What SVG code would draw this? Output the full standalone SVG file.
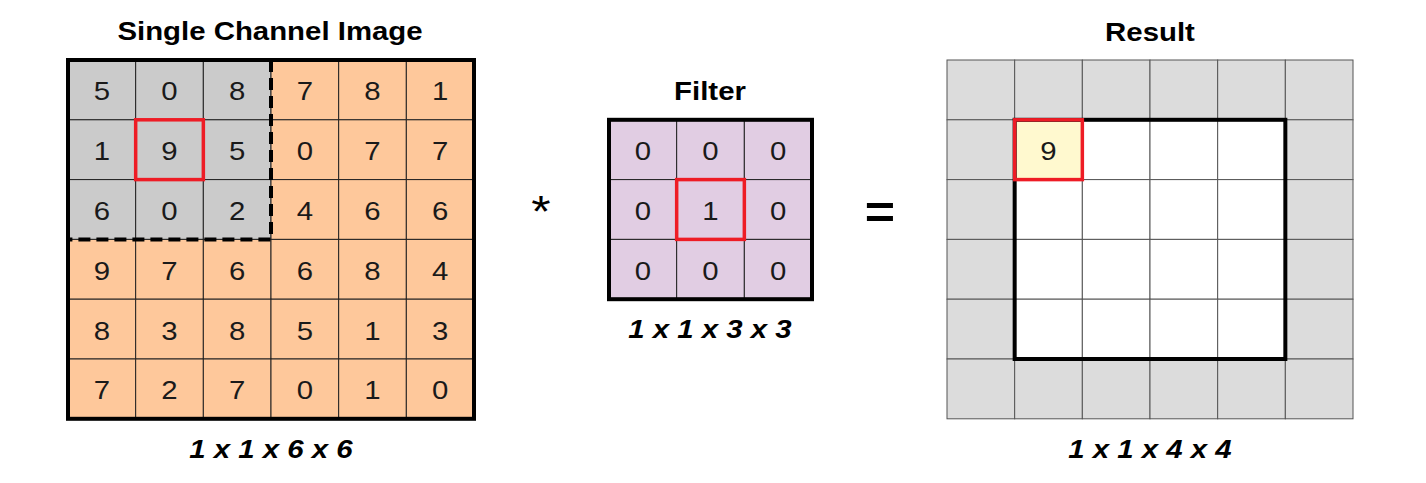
<svg xmlns="http://www.w3.org/2000/svg" width="1426" height="483" viewBox="0 0 1426 483">
<style>
.num{font-family:"Liberation Sans",Arial,sans-serif;font-size:26px;text-anchor:middle;fill:#1a1a1a}
.title{font-family:"Liberation Sans",Arial,sans-serif;font-size:26px;font-weight:bold;text-anchor:middle;fill:#000}
.dim{font-family:"Liberation Sans",Arial,sans-serif;font-size:26px;font-weight:bold;font-style:italic;text-anchor:middle;fill:#000}
.op{font-family:"Liberation Sans",Arial,sans-serif;text-anchor:middle;fill:#000}
.org{fill:#fec89b;stroke:#222;stroke-width:1}
.gry{fill:#cbcbcb;stroke:#222;stroke-width:1}
.lav{fill:#e1cde3;stroke:#222;stroke-width:1}
.rg{fill:#dcdcdc;stroke:#555;stroke-width:1}
.wh{fill:#fff;stroke:#555;stroke-width:1}
.thick{fill:none;stroke:#000;stroke-width:4}
.red{fill:none;stroke:#ee1c25;stroke-width:3.5}
</style>
<g id="image">
<text class="title" transform="translate(270,40) scale(1.13,1)">Single Channel Image</text>
<g>
<rect class="gry" x="68" y="60" width="67.67" height="59.8"/><rect class="gry" x="135.67" y="60" width="67.67" height="59.8"/><rect class="gry" x="203.33" y="60" width="67.67" height="59.8"/>
<rect class="org" x="271" y="60" width="67.67" height="59.8"/><rect class="org" x="338.67" y="60" width="67.67" height="59.8"/><rect class="org" x="406.33" y="60" width="67.67" height="59.8"/>
<rect class="gry" x="68" y="119.8" width="67.67" height="59.8"/><rect class="gry" x="135.67" y="119.8" width="67.67" height="59.8"/><rect class="gry" x="203.33" y="119.8" width="67.67" height="59.8"/>
<rect class="org" x="271" y="119.8" width="67.67" height="59.8"/><rect class="org" x="338.67" y="119.8" width="67.67" height="59.8"/><rect class="org" x="406.33" y="119.8" width="67.67" height="59.8"/>
<rect class="gry" x="68" y="179.6" width="67.67" height="59.8"/><rect class="gry" x="135.67" y="179.6" width="67.67" height="59.8"/><rect class="gry" x="203.33" y="179.6" width="67.67" height="59.8"/>
<rect class="org" x="271" y="179.6" width="67.67" height="59.8"/><rect class="org" x="338.67" y="179.6" width="67.67" height="59.8"/><rect class="org" x="406.33" y="179.6" width="67.67" height="59.8"/>
<rect class="org" x="68" y="239.4" width="67.67" height="59.8"/><rect class="org" x="135.67" y="239.4" width="67.67" height="59.8"/><rect class="org" x="203.33" y="239.4" width="67.67" height="59.8"/>
<rect class="org" x="271" y="239.4" width="67.67" height="59.8"/><rect class="org" x="338.67" y="239.4" width="67.67" height="59.8"/><rect class="org" x="406.33" y="239.4" width="67.67" height="59.8"/>
<rect class="org" x="68" y="299.2" width="67.67" height="59.8"/><rect class="org" x="135.67" y="299.2" width="67.67" height="59.8"/><rect class="org" x="203.33" y="299.2" width="67.67" height="59.8"/>
<rect class="org" x="271" y="299.2" width="67.67" height="59.8"/><rect class="org" x="338.67" y="299.2" width="67.67" height="59.8"/><rect class="org" x="406.33" y="299.2" width="67.67" height="59.8"/>
<rect class="org" x="68" y="359" width="67.67" height="59.8"/><rect class="org" x="135.67" y="359" width="67.67" height="59.8"/><rect class="org" x="203.33" y="359" width="67.67" height="59.8"/>
<rect class="org" x="271" y="359" width="67.67" height="59.8"/><rect class="org" x="338.67" y="359" width="67.67" height="59.8"/><rect class="org" x="406.33" y="359" width="67.67" height="59.8"/>
</g>
<rect class="thick" x="68" y="60" width="406" height="358.8"/>
<path d="M271 60 V239.4 H68" fill="none" stroke="#000" stroke-width="4" stroke-dasharray="12 6"/>
<rect class="red" x="135.67" y="119.8" width="67.67" height="59.8"/>
<g>
<text class="num" transform="translate(101.8,100.3) scale(1.13,1)">5</text><text class="num" transform="translate(169.5,100.3) scale(1.13,1)">0</text><text class="num" transform="translate(237.2,100.3) scale(1.13,1)">8</text><text class="num" transform="translate(304.8,100.3) scale(1.13,1)">7</text><text class="num" transform="translate(372.5,100.3) scale(1.13,1)">8</text><text class="num" transform="translate(440.2,100.3) scale(1.13,1)">1</text>
<text class="num" transform="translate(101.8,160.1) scale(1.13,1)">1</text><text class="num" transform="translate(169.5,160.1) scale(1.13,1)">9</text><text class="num" transform="translate(237.2,160.1) scale(1.13,1)">5</text><text class="num" transform="translate(304.8,160.1) scale(1.13,1)">0</text><text class="num" transform="translate(372.5,160.1) scale(1.13,1)">7</text><text class="num" transform="translate(440.2,160.1) scale(1.13,1)">7</text>
<text class="num" transform="translate(101.8,219.9) scale(1.13,1)">6</text><text class="num" transform="translate(169.5,219.9) scale(1.13,1)">0</text><text class="num" transform="translate(237.2,219.9) scale(1.13,1)">2</text><text class="num" transform="translate(304.8,219.9) scale(1.13,1)">4</text><text class="num" transform="translate(372.5,219.9) scale(1.13,1)">6</text><text class="num" transform="translate(440.2,219.9) scale(1.13,1)">6</text>
<text class="num" transform="translate(101.8,279.7) scale(1.13,1)">9</text><text class="num" transform="translate(169.5,279.7) scale(1.13,1)">7</text><text class="num" transform="translate(237.2,279.7) scale(1.13,1)">6</text><text class="num" transform="translate(304.8,279.7) scale(1.13,1)">6</text><text class="num" transform="translate(372.5,279.7) scale(1.13,1)">8</text><text class="num" transform="translate(440.2,279.7) scale(1.13,1)">4</text>
<text class="num" transform="translate(101.8,339.5) scale(1.13,1)">8</text><text class="num" transform="translate(169.5,339.5) scale(1.13,1)">3</text><text class="num" transform="translate(237.2,339.5) scale(1.13,1)">8</text><text class="num" transform="translate(304.8,339.5) scale(1.13,1)">5</text><text class="num" transform="translate(372.5,339.5) scale(1.13,1)">1</text><text class="num" transform="translate(440.2,339.5) scale(1.13,1)">3</text>
<text class="num" transform="translate(101.8,399.3) scale(1.13,1)">7</text><text class="num" transform="translate(169.5,399.3) scale(1.13,1)">2</text><text class="num" transform="translate(237.2,399.3) scale(1.13,1)">7</text><text class="num" transform="translate(304.8,399.3) scale(1.13,1)">0</text><text class="num" transform="translate(372.5,399.3) scale(1.13,1)">1</text><text class="num" transform="translate(440.2,399.3) scale(1.13,1)">0</text>
</g>
<text class="dim" transform="translate(271,458) scale(1.13,1)">1 x 1 x 6 x 6</text>
</g>
<g id="conv-op">
<text class="op" font-size="44" transform="translate(541,227) scale(1.13,1)">*</text>
</g>
<g id="filter">
<text class="title" transform="translate(710,100) scale(1.13,1)">Filter</text>
<rect class="lav" x="609" y="119.8" width="67.67" height="59.8"/><rect class="lav" x="676.67" y="119.8" width="67.67" height="59.8"/><rect class="lav" x="744.33" y="119.8" width="67.67" height="59.8"/>
<rect class="lav" x="609" y="179.6" width="67.67" height="59.8"/><rect class="lav" x="676.67" y="179.6" width="67.67" height="59.8"/><rect class="lav" x="744.33" y="179.6" width="67.67" height="59.8"/>
<rect class="lav" x="609" y="239.4" width="67.67" height="59.8"/><rect class="lav" x="676.67" y="239.4" width="67.67" height="59.8"/><rect class="lav" x="744.33" y="239.4" width="67.67" height="59.8"/>
<rect class="thick" x="609" y="119.8" width="203" height="179.4"/>
<rect class="red" x="676.67" y="179.6" width="67.67" height="59.8"/>
<text class="num" transform="translate(642.8,160.1) scale(1.13,1)">0</text><text class="num" transform="translate(710.5,160.1) scale(1.13,1)">0</text><text class="num" transform="translate(778.2,160.1) scale(1.13,1)">0</text>
<text class="num" transform="translate(642.8,219.9) scale(1.13,1)">0</text><text class="num" transform="translate(710.5,219.9) scale(1.13,1)">1</text><text class="num" transform="translate(778.2,219.9) scale(1.13,1)">0</text>
<text class="num" transform="translate(642.8,279.7) scale(1.13,1)">0</text><text class="num" transform="translate(710.5,279.7) scale(1.13,1)">0</text><text class="num" transform="translate(778.2,279.7) scale(1.13,1)">0</text>
<text class="dim" transform="translate(710,338) scale(1.13,1)">1 x 1 x 3 x 3</text>
</g>
<g id="equals-op">
<text class="op" font-size="46" font-weight="bold" transform="translate(880,228) scale(1.13,1)">=</text>
</g>
<g id="result">
<text class="title" transform="translate(1150,41) scale(1.13,1)">Result</text>
<rect class="rg" x="947" y="60" width="67.67" height="59.8"/><rect class="rg" x="1014.67" y="60" width="67.67" height="59.8"/><rect class="rg" x="1082.33" y="60" width="67.67" height="59.8"/><rect class="rg" x="1150" y="60" width="67.67" height="59.8"/><rect class="rg" x="1217.67" y="60" width="67.67" height="59.8"/><rect class="rg" x="1285.33" y="60" width="67.67" height="59.8"/>
<rect class="rg" x="947" y="119.8" width="67.67" height="59.8"/><rect class="wh" x="1014.67" y="119.8" width="67.67" height="59.8" style="fill:#fff9cf"/><rect class="wh" x="1082.33" y="119.8" width="67.67" height="59.8"/><rect class="wh" x="1150" y="119.8" width="67.67" height="59.8"/><rect class="wh" x="1217.67" y="119.8" width="67.67" height="59.8"/><rect class="rg" x="1285.33" y="119.8" width="67.67" height="59.8"/>
<rect class="rg" x="947" y="179.6" width="67.67" height="59.8"/><rect class="wh" x="1014.67" y="179.6" width="67.67" height="59.8"/><rect class="wh" x="1082.33" y="179.6" width="67.67" height="59.8"/><rect class="wh" x="1150" y="179.6" width="67.67" height="59.8"/><rect class="wh" x="1217.67" y="179.6" width="67.67" height="59.8"/><rect class="rg" x="1285.33" y="179.6" width="67.67" height="59.8"/>
<rect class="rg" x="947" y="239.4" width="67.67" height="59.8"/><rect class="wh" x="1014.67" y="239.4" width="67.67" height="59.8"/><rect class="wh" x="1082.33" y="239.4" width="67.67" height="59.8"/><rect class="wh" x="1150" y="239.4" width="67.67" height="59.8"/><rect class="wh" x="1217.67" y="239.4" width="67.67" height="59.8"/><rect class="rg" x="1285.33" y="239.4" width="67.67" height="59.8"/>
<rect class="rg" x="947" y="299.2" width="67.67" height="59.8"/><rect class="wh" x="1014.67" y="299.2" width="67.67" height="59.8"/><rect class="wh" x="1082.33" y="299.2" width="67.67" height="59.8"/><rect class="wh" x="1150" y="299.2" width="67.67" height="59.8"/><rect class="wh" x="1217.67" y="299.2" width="67.67" height="59.8"/><rect class="rg" x="1285.33" y="299.2" width="67.67" height="59.8"/>
<rect class="rg" x="947" y="359" width="67.67" height="59.8"/><rect class="rg" x="1014.67" y="359" width="67.67" height="59.8"/><rect class="rg" x="1082.33" y="359" width="67.67" height="59.8"/><rect class="rg" x="1150" y="359" width="67.67" height="59.8"/><rect class="rg" x="1217.67" y="359" width="67.67" height="59.8"/><rect class="rg" x="1285.33" y="359" width="67.67" height="59.8"/>
<rect class="thick" x="1014.67" y="119.8" width="270.67" height="239.2" stroke-width="3.5"/>
<rect class="red" x="1014.67" y="119.8" width="67.67" height="59.8"/>
<text class="num" transform="translate(1048.5,160.1) scale(1.13,1)">9</text>
<text class="dim" transform="translate(1150,458) scale(1.13,1)">1 x 1 x 4 x 4</text>
</g>
<g id="connectors"/>
</svg>
